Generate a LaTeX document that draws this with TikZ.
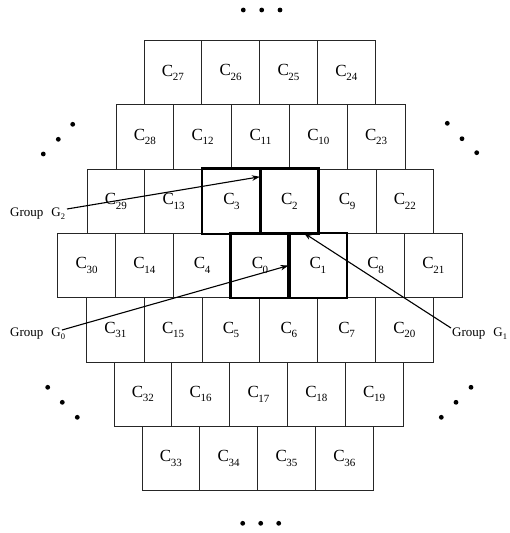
\documentclass[tikz,border=0pt]{standalone}
\usepackage{fontspec}
\setmainfont{Liberation Serif}
\usetikzlibrary{arrows.meta,calc}

% cell caption: C with a lowered index
\newcommand{\cellname}[1]{{\fontsize{17}{17}\selectfont C}\kern-0.4pt\raisebox{-4.5pt}{\fontsize{11}{11}\selectfont #1}}
% group caption: "Group  G" with a lowered index
\newcommand{\grouplabel}[1]{{\fontsize{13}{13}\selectfont Group\hspace{8pt}G}\raisebox{-3pt}{\fontsize{8.5}{8.5}\selectfont #1}}

\tikzset{
  cell/.style={draw=black!85, line width=0.9pt, minimum width=57.8pt,
    minimum height=64.3pt, inner sep=0pt, anchor=center},
  groupcell/.style={draw=black, line width=2.4pt},
  grouptext/.style={inner sep=0pt, anchor=base west},
  pointer/.style={line width=1.1pt, -{Stealth[length=8pt,width=5.5pt]}},
  dot/.style={fill=black, draw=none},
}

\begin{document}
\begin{tikzpicture}[x=1pt, y=-1pt]
\useasboundingbox (0,0) rectangle (509,533);

% rows of the cell cluster: row index / left edge / cell numbers
\foreach \r/\lx/\labs in {
    0/144/{27,26,25,24},
    1/116/{28,12,11,10,23},
    2/87/{29,13,3,2,9,22},
    3/57.7/{30,14,4,0,1,8,21},
    4/86.5/{31,15,5,6,7,20},
    5/114/{32,16,17,18,19},
    6/142/{33,34,35,36}} {
  \foreach \lab [count=\i from 0] in \labs {
    \node[cell] (c\lab) at ({\lx+(\i+0.5)*57.8}, {40.5+(\r+0.5)*64.3}) {\cellname{\lab}};
  }
}

% the two highlighted cell pairs
\foreach \n in {3,2,0,1}
  \draw[groupcell] (c\n.north west) rectangle (c\n.south east);

% group captions
\node[grouptext] (g2) at (10,216.7) {\grouplabel{2}};
\node[grouptext] (g0) at (10,336.7) {\grouplabel{0}};
\node[grouptext] (g1) at (452,336.7) {\grouplabel{1}};

% arrow start points next to the captions
\coordinate (g2s) at (67,209);
\coordinate (g0s) at (62,330);
\coordinate (g1s) at (451,328);

\draw[pointer] (g2s) -- ([yshift=24.5pt]c2.west);
\draw[pointer] (g0s) -- (c1.west);
\draw[pointer] (g1s) -- ([xshift=-14pt]c1.north);

% continuation dots
\foreach \x in {243.3,261.7,280} \fill[dot] (\x,10) circle (2.4);
\foreach \x in {242.7,260.7,278.7} \fill[dot] (\x,523.3) circle (2.4);
\foreach \p in {(43.3,154),(58.3,139.3),(72.7,124.3),
                (447.3,123.3),(462,138.7),(476.7,152.7),
                (47.7,387.3),(62.3,402.3),(77.3,417.3),
                (471,387.3),(456,402.3),(441.3,417.3)}
  \fill[dot] \p circle (2.4);
\end{tikzpicture}
\end{document}
